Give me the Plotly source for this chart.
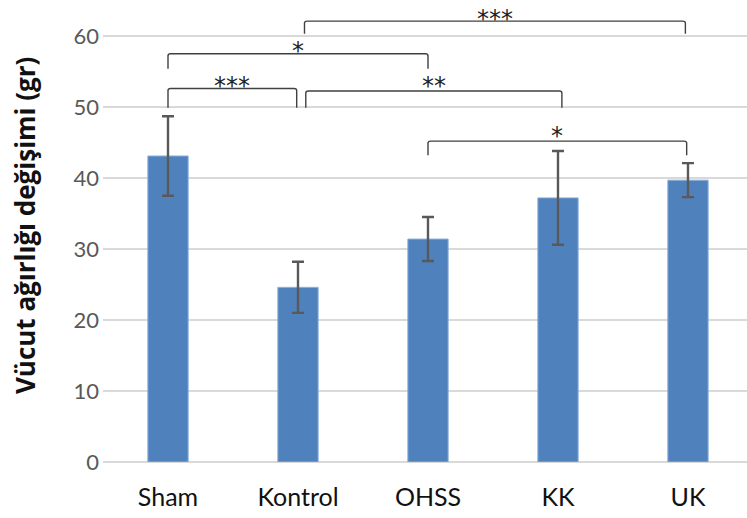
import plotly.graph_objects as go

categories = ["Sham", "Kontrol", "OHSS", "KK", "UK"]
values = [43.1, 24.6, 31.4, 37.2, 39.7]
errors = [5.6, 3.6, 3.1, 6.6, 2.4]
y_ticks = [0, 10, 20, 30, 40, 50, 60]
y_title = "Vücut ağırlığı değişimi (gr)"

# significance brackets: (x_left, x_right, y_top, y_leg_bottom, label, label_y)
brackets = [
    (0.0, 0.99, 52.6, 49.9, "***", 53.9),
    (0.0, 2.0, 57.5, 55.4, "*", 58.9),
    (1.06, 3.03, 52.25, 49.9, "**", 53.9),
    (1.05, 3.98, 62.1, 60.3, "***", 63.4),
    (2.0, 3.99, 45.2, 43.2, "*", 46.9),
]

xs = list(range(len(categories)))

fig = go.Figure()
fig.add_trace(go.Bar(
    x=xs, y=values,
    marker=dict(color="#4F81BD", line=dict(color="#8DB0DD", width=1)),
    error_y=dict(type="data", array=errors, visible=True,
                 color="#595959", thickness=2.4, width=6),
    width=0.31,
))

shapes = []
annotations = []
for (xl, xr, yt, yb, lab, ly) in brackets:
    r = 0.02
    ry = 0.3
    path = (f"M {xl},{yb} L {xl},{yt-ry} Q {xl},{yt} {xl+r},{yt} "
            f"L {xr-r},{yt} Q {xr},{yt} {xr},{yt-ry} L {xr},{yb}")
    shapes.append(dict(type="path", path=path, xref="x", yref="y",
                       line=dict(color="#404040", width=1.4), layer="above"))
    annotations.append(dict(x=(xl + xr) / 2, y=ly - 1.0, xref="x", yref="y",
                            text=lab, showarrow=False,
                            font=dict(family="DejaVu Sans", size=24, color="#222222"),
                            yanchor="middle", xanchor="center"))

annotations.append(dict(x=-0.121, y=0.513, xref="paper", yref="paper",
                        text=f"<b>{y_title}</b>", textangle=-90, showarrow=False,
                        font=dict(family="Open Sans", size=26, color="#111111"),
                        xanchor="center", yanchor="middle"))

fig.update_layout(
    width=747, height=518,
    margin=dict(l=103, r=0, t=0, b=56, autoexpand=False),
    paper_bgcolor="white", plot_bgcolor="white",
    showlegend=False,
    hovermode=False,
    shapes=shapes,
    annotations=annotations,
    font=dict(family="Lato, Open Sans, sans-serif"),
    xaxis=dict(
        range=[-0.5, 4.454],
        tickvals=xs, ticktext=categories,
        tickfont=dict(size=25, color="#111111"),
        showgrid=False, zeroline=False, showline=False, ticks="",
        ticklabelstandoff=18, automargin=False,
    ),
    yaxis=dict(
        range=[0, 65.07],
        tickvals=y_ticks,
        tickfont=dict(size=22, color="#595959"),
        showgrid=True, gridcolor="#D9D9D9", gridwidth=1.5,
        zeroline=True, zerolinecolor="#D9D9D9", zerolinewidth=1.5,
        showline=False, ticks="",
        ticklabelstandoff=3, automargin=False,
    ),
)

fig.write_html(
    "out.html",
    config={"displayModeBar": False},
    post_script="document.body.style.margin='0';document.body.style.overflow='hidden';",
)
